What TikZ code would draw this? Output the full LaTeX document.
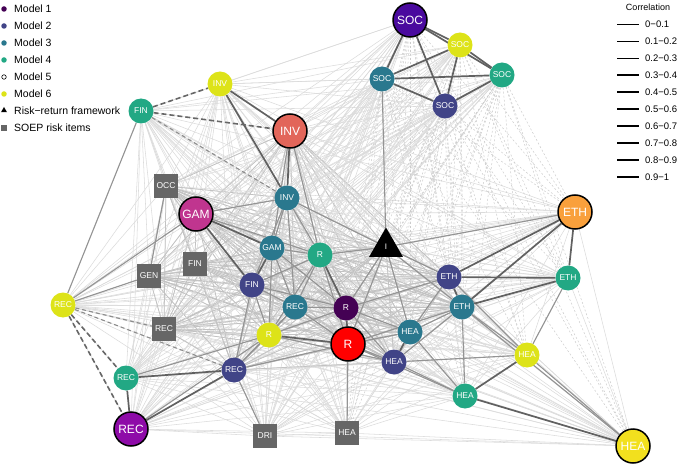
\documentclass[tikz,border=0pt]{standalone}
\usepackage{fontspec}
\setmainfont{Liberation Sans}
\usetikzlibrary{shapes.geometric,backgrounds}
\definecolor{cA}{HTML}{440154}
\definecolor{cB}{HTML}{414487}
\definecolor{cC}{HTML}{2A788E}
\definecolor{cD}{HTML}{22A884}
\definecolor{cF}{HTML}{DDE318}
\definecolor{sqg}{HTML}{666666}
\definecolor{bSOC}{HTML}{4A0A9E}
\definecolor{bINV}{HTML}{E2665A}
\definecolor{bGAM}{HTML}{C0358F}
\definecolor{bETH}{HTML}{F9A03C}
\definecolor{bR}{HTML}{FF0000}
\definecolor{bREC}{HTML}{8E0BA8}
\definecolor{bHEA}{HTML}{F2E01E}
\begin{document}
\begin{tikzpicture}[x=1pt,y=-1pt,
  sm/.style={circle,minimum size=25pt,inner sep=0pt,text=white,font=\fontsize{8.5}{9}\selectfont},
  big/.style={circle,minimum size=34pt,inner sep=0pt,draw=black,line width=1.5pt,text=white,font=\fontsize{12}{13}\selectfont},
  sqbox/.style={rectangle,fill=sqg,minimum size=24pt,inner sep=0pt,text=white,font=\fontsize{8.5}{9}\selectfont},
  lite/.style={draw=black!14,line width=0.55pt},
  corelite/.style={draw=black!24,line width=0.75pt},
  litedash/.style={draw=black!20,line width=0.5pt,dash pattern=on 2pt off 2pt},
  med/.style={draw=black!42,line width=1.1pt},
  dark/.style={draw=black!62,line width=1.7pt},
  darkdash/.style={draw=black!60,line width=1.6pt,dash pattern=on 5pt off 3pt},
  meddash/.style={draw=black!45,line width=1.1pt,dash pattern=on 4pt off 3pt},
  legtext/.style={anchor=west,inner sep=0pt,font=\fontsize{10.5}{11}\selectfont},
  legdot/.style={circle,inner sep=0pt,minimum size=5.5pt}
]
\useasboundingbox (0,0) rectangle (685,465);

% ---- SOC cluster
\node[big,fill=bSOC] (socB) at (410,20) {SOC};
\node[sm,fill=cF] (soc6) at (460,45) {SOC};
\node[sm,fill=cD] (soc4) at (502,75) {SOC};
\node[sm,fill=cC] (soc3) at (382,79) {SOC};
\node[sm,fill=cB] (soc2) at (445,106) {SOC};
% ---- INV / FIN
\node[sm,fill=cF] (inv6) at (220,84) {INV};
\node[sm,fill=cD] (fin4) at (141,111) {FIN};
\node[big,fill=bINV] (invB) at (290,131) {INV};
\node[sm,fill=cC] (inv3) at (287,198) {INV};
\node[sqbox] (occ) at (166,186) {OCC};
\node[big,fill=bGAM] (gamB) at (196,214) {GAM};
\node[sm,fill=cC] (gam3) at (272,248) {GAM};
\node[sm,fill=cD] (r4) at (320,255) {R};
\node[regular polygon,regular polygon sides=3,fill=black,minimum size=39pt,inner sep=0pt,text=white,font=\fontsize{8}{8}\selectfont] (tri) at (386,247) {I};
\node[sqbox] (gen) at (149,276) {GEN};
\node[sqbox] (finsq) at (195,264) {FIN};
\node[sm,fill=cB] (fin2) at (252,285) {FIN};
\node[sm,fill=cC] (rec3) at (295,307) {REC};
\node[sm,fill=cA] (r1) at (346,308) {R};
\node[sm,fill=cF] (r6) at (269,335) {R};
\node[big,fill=bR] (rB) at (348,344) {R};
% ---- ETH / HEA
\node[sm,fill=cB] (eth2) at (449,277) {ETH};
\node[sm,fill=cC] (eth3) at (462,307) {ETH};
\node[sm,fill=cD] (eth4) at (568,278) {ETH};
\node[big,fill=bETH] (ethB) at (575,212) {ETH};
\node[sm,fill=cC] (hea3) at (410,332) {HEA};
\node[sm,fill=cB] (hea2) at (394,362) {HEA};
\node[sm,fill=cF] (hea6) at (527,355) {HEA};
\node[sm,fill=cD] (hea4) at (465,396) {HEA};
\node[big,fill=bHEA] (heaB) at (633,446) {HEA};
% ---- REC
\node[sm,fill=cF] (rec6) at (63,305) {REC};
\node[sqbox] (recsq) at (164,329) {REC};
\node[sm,fill=cB] (rec2) at (234,370) {REC};
\node[sm,fill=cD] (rec4) at (126,378) {REC};
\node[big,fill=bREC] (recB) at (131,429) {REC};
\node[sqbox] (dri) at (265,436) {DRI};
\node[sqbox] (heasq) at (347,433) {HEA};

\def\Blist{inv6,fin4,invB,inv3,occ,gamB,gam3,r4,tri,gen,finsq,fin2,rec3,r1,r6,rB,eth2,eth3,eth4,ethB,hea3,hea2,hea6,hea4,heaB,rec6,recsq,rec2,rec4,recB,dri,heasq}
\def\Clist{invB,inv3,occ,gamB,gam3,r4,tri,gen,finsq,fin2,rec3,r1,r6,rB,eth2,eth3,hea3,hea2,recsq,rec2}
\def\Alist{socB,soc6,soc4,soc3,soc2}
\def\Lleft{inv6,fin4,invB,inv3,occ,gamB,gam3,r4,gen,finsq,fin2,rec3,r6,rec6,recsq,rec2,rec4,recB,dri}
\def\Lright{tri,r1,rB,eth2,eth3,eth4,ethB,hea3,hea2,hea6,hea4,heaB,heasq}

\begin{scope}[on background layer]
  % light mesh
  \foreach \a [count=\i] in \Blist {
    \foreach \b [count=\j] in \Blist {
      \ifnum\j>\i \draw[lite] (\a) -- (\b); \fi
    }
  }
  \foreach \a [count=\i] in \Clist {
    \foreach \b [count=\j] in \Clist {
      \ifnum\j>\i \draw[corelite] (\a) -- (\b); \fi
    }
  }
  \foreach \a in \Alist {
    \foreach \b in \Lleft { \draw[lite] (\a) -- (\b); }
    \foreach \b in \Lright { \draw[litedash] (\a) -- (\b); }
  }
  % medium edges
  \foreach \a/\b in {rec6/fin4,rec6/gamB,rec6/gen,inv3/gam3,inv3/r4,inv3/fin2,inv3/rec3,
    gam3/r4,gam3/rec3,gam3/r6,fin2/r4,fin2/r6,fin2/rec3,r4/rB,r4/rec3,r4/r6,r4/tri,
    tri/r1,tri/rB,tri/eth2,tri/eth3,tri/hea3,tri/soc3,tri/inv3,tri/ethB,rec3/r1,rec3/rB,rec3/r6,
    r6/r1,r1/hea3,r1/hea2,rB/hea3,rB/hea2,hea3/eth2,hea3/eth3,hea2/eth3,hea2/hea4,
    hea3/hea4,hea2/hea6,eth3/hea6,eth4/hea6,eth2/hea6,eth3/hea4,heaB/hea6,heaB/eth3,
    hea4/rB,rec2/r6,rec2/rec3,rec2/rB,recB/r6,rec4/r6,rec2/fin2,gamB/r4,gamB/inv3,
    occ/gen,invB/r4,invB/gam3,rB/heasq,rec2/dri,r1/eth2,rB/eth3,r6/hea2,gam3/r1,fin2/r1}
    \draw[med] (\a) -- (\b);
  % dark edges
  \foreach \a/\b in {socB/soc6,socB/soc4,socB/soc3,socB/soc2,soc6/soc3,soc6/soc2,soc6/soc4,
    soc3/soc4,soc3/soc2,soc2/soc4,inv6/invB,inv6/inv3,invB/inv3,rec4/recB,rec4/rec2,
    recB/rec2,ethB/eth2,ethB/eth3,ethB/eth4,eth2/eth4,eth3/eth4,eth2/eth3,hea6/hea4,
    hea3/hea2,heaB/hea4,r1/rB,r6/rB,r4/r1,gamB/gam3,gamB/fin2,gam3/fin2}
    \draw[dark] (\a) -- (\b);
  \foreach \a/\b in {fin4/inv6,fin4/invB,rec6/rec4,rec6/recB}
    \draw[darkdash] (\a) -- (\b);
  \foreach \a/\b in {fin4/inv3,rec6/recsq,rec6/rec2}
    \draw[meddash] (\a) -- (\b);
\end{scope}

% ---- model legend
\node[legdot,fill=cA] (l1) at (4,9) {};
\node[legtext] (t1) at (14,9) {Model 1};
\node[legdot,fill=cB] (l2) at (4,26) {};
\node[legtext] (t2) at (14,26) {Model 2};
\node[legdot,fill=cC] (l3) at (4,43) {};
\node[legtext] (t3) at (14,43) {Model 3};
\node[legdot,fill=cD] (l4) at (4,60) {};
\node[legtext] (t4) at (14,60) {Model 4};
\node[legdot,draw=black,line width=0.6pt,minimum size=4.5pt] (l5) at (4,77) {};
\node[legtext] (t5) at (14,77) {Model 5};
\node[legdot,fill=cF] (l6) at (4,94) {};
\node[legtext] (t6) at (14,94) {Model 6};
\node[regular polygon,regular polygon sides=3,fill=black,minimum size=7pt,inner sep=0pt] (l7) at (4,110.5) {};
\node[legtext] (t7) at (14,111) {Risk−return framework};
\node[rectangle,fill=sqg,minimum size=5.5pt,inner sep=0pt] (l8) at (4,128) {};
\node[legtext] (t8) at (14,128) {SOEP risk items};

% ---- correlation legend
\node[font=\fontsize{9}{10}\selectfont,inner sep=0pt] (ctitle) at (648,7) {Correlation};
\foreach \lab [count=\k] in {0−0.1,0.1−0.2,0.2−0.3,0.3−0.4,0.4−0.5,0.5−0.6,0.6−0.7,0.7−0.8,0.8−0.9,0.9−1} {
  \coordinate (ca\k) at (617,7+17*\k);
  \coordinate (cb\k) at (639,7+17*\k);
  \draw[black,line width={0.35+0.17*\k}] (ca\k) -- (cb\k);
  \node[legtext,font=\fontsize{9.5}{10}\selectfont] (cl\k) at (645,7+17*\k) {\lab};
}
\end{tikzpicture}
\end{document}
